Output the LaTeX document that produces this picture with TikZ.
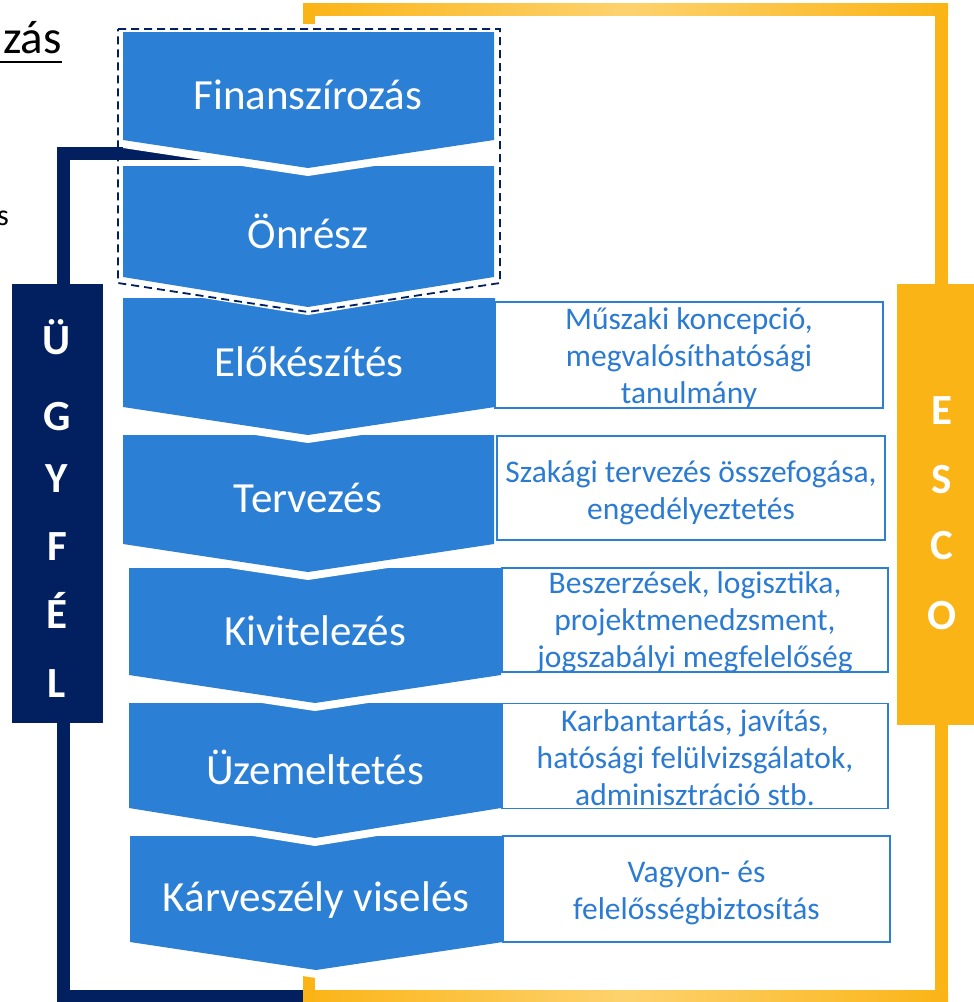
\documentclass[tikz,border=0pt]{standalone}
\usepackage{fontspec}
\setmainfont{Carlito}
\definecolor{cblue}{HTML}{2B7FD5}
\definecolor{tblue}{HTML}{2B7BD3}
\definecolor{navy}{HTML}{02205F}
\definecolor{ylw}{HTML}{FBB416}
\definecolor{ylwl}{HTML}{FDD26E}
\tikzset{
  chevtext/.style={text=white, font=\fontsize{43}{48}\selectfont, inner sep=0pt},
  infobox/.style={draw=cblue, line width=1.6pt, fill=white, inner sep=0pt},
  infotext/.style={text=tblue, align=center, font=\fontsize{31.5}{37}\selectfont, inner sep=0pt},
  sideletter/.style={text=white, font=\fontsize{43}{43}\selectfont\bfseries, inner sep=0pt, anchor=base},
  navybar/.style={fill=navy},
  ylwbar/.style={fill=ylw},
  ylwshade/.style={left color=ylw, right color=ylw, middle color=ylwl},
  dashbox/.style={draw=navy, line width=1.8pt, dash pattern=on 8pt off 5pt},
}
% #1 left, #2 right, #3 top, #4 side bottom, #5 tip x, #6 tip y
\newcommand\mychev[6]{%
  \fill[white] (#1,#3) -- (#2,#3) -- (#2,{#4+8}) -- (#5,{#6+8}) -- (#1,{#4+8}) -- cycle;
  \fill[cblue] (#1,#3) -- (#2,#3) -- (#2,#4) -- (#5,#6) -- (#1,#4) -- cycle;
}
\begin{document}
\begin{tikzpicture}[x=1pt,y=-1pt]
\useasboundingbox (0,0) rectangle (974,1002);
\clip (0,0) rectangle (974,1002);

% cut-off texts at the left
\node[anchor=base east, inner sep=0pt, font=\fontsize{47}{52}\selectfont] (zas) at (62,53) {zás};
\draw[line width=2.5pt] (0,62) -- (zas.east |- 0,62);
\node[anchor=base east, inner sep=0pt, font=\fontsize{30}{36}\selectfont] (ss) at (9,225) {s};

% navy frame (client)
\fill[navybar] (57,147) rectangle (250,160);
\fill[navybar] (57,147) rectangle (70,1002);
\fill[navybar] (57,990) rectangle (303,1002);

% yellow frame (ESCO)
\shade[ylwshade] (303,3) rectangle (948,15);
\fill[ylwbar] (303,3) rectangle (315,24);
\fill[ylwbar] (935,3) rectangle (948,1002);
\shade[ylwshade] (303,990) rectangle (948,1002);
\fill[ylwbar] (303,975) rectangle (315,1002);

% chevrons, bottom to top
\mychev{130}{503}{836}{942}{316}{970}
\mychev{129}{501}{703}{808}{315}{838}
\mychev{129}{501}{568}{675}{315}{703}
\mychev{123}{494}{435}{544}{308}{572}
\mychev{123}{495}{298}{407}{308}{435}
\mychev{123}{494}{166}{277}{308}{307}
\mychev{123}{494}{32}{140}{308}{168}

\node[chevtext] (c1) at (308,95) {Finanszírozás};
\node[chevtext] (c2) at (308,231) {Önrész};
\node[chevtext] (c3) at (309,362) {Előkészítés};
\node[chevtext] (c4) at (308,498) {Tervezés};
\node[chevtext] (c5) at (315,631) {Kivitelezés};
\node[chevtext] (c6) at (315,767) {Üzemeltetés};
\node[chevtext] (c7) at (316,900) {Kárveszély viselés};

% dashed group around financing
\draw[dashbox] (118,29) -- (500,29) -- (500,283) -- (308,312) -- (118,283) -- cycle;

% info boxes
\node[infobox, minimum width=388pt, minimum height=106pt] (b1) at (689,355) {};
\node[infotext] (t1) at (689,358) {Műszaki koncepció,\\megvalósíthatósági\\tanulmány};
\node[infobox, minimum width=388pt, minimum height=104pt] (b2) at (691,488) {};
\node[infotext] (t2) at (691,493) {Szakági tervezés összefogása,\\engedélyeztetés};
\node[infobox, minimum width=386pt, minimum height=104pt] (b3) at (695,620) {};
\node[infotext] (t3) at (695,622) {Beszerzések, logisztika,\\projektmenedzsment,\\jogszabályi megfelelőség};
\node[infobox, minimum width=386pt, minimum height=105pt] (b4) at (695,756) {};
\node[infotext] (t4) at (695,758) {Karbantartás, javítás,\\hatósági felülvizsgálatok,\\adminisztráció stb.};
\node[infobox, minimum width=387pt, minimum height=106pt] (b5) at (696.5,889) {};
\node[infotext] (t5) at (696.5,893) {Vagyon- és\\felelősségbiztosítás};

% side boxes
\node[fill=navy, minimum width=91pt, minimum height=439pt, inner sep=0pt] (ugy) at (57.5,503.5) {};
\node[sideletter] (u1) at (57,354) {Ü};
\node[sideletter] (u2) at (57,430) {G};
\node[sideletter] (u3) at (57,492) {Y};
\node[sideletter] (u4) at (57,560) {F};
\node[sideletter] (u5) at (57,628) {É};
\node[sideletter] (u6) at (57,697) {L};

\node[fill=ylw, minimum width=80pt, minimum height=441pt, inner sep=0pt] (esco) at (937,504.5) {};
\node[sideletter] (e1) at (942,424) {E};
\node[sideletter] (e2) at (942,493) {S};
\node[sideletter] (e3) at (942,559) {C};
\node[sideletter] (e4) at (942,629) {O};
\end{tikzpicture}
\end{document}
